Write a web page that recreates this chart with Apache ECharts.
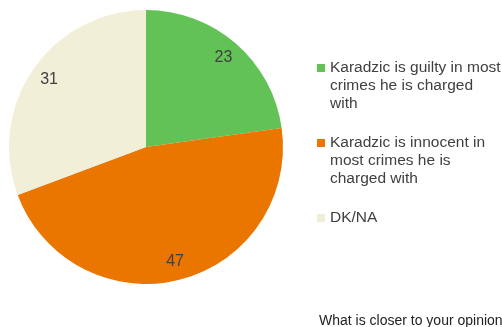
<!DOCTYPE html>
<html>
<head>
<meta charset="utf-8">
<style>
  html, body { margin: 0; padding: 0; background: #ffffff; }
  #chart { width: 502px; height: 327px; }
</style>
<script src="https://cdn.jsdelivr.net/npm/echarts@6/dist/echarts.min.js"></script>
</head>
<body>
<div id="chart"></div>
<script>
// Survey answers (percent of respondents)
const categories = [
  'Karadzic is guilty in most crimes he is charged with',
  'Karadzic is innocent in most crimes he is charged with',
  'DK/NA'
];
const values = [23, 47, 31];
const colors = ['#63c255', '#ea7600', '#f2efd8'];
// Legend text, wrapped by line
const legendLines = [
  ['Karadzic is guilty in most', 'crimes he is charged', 'with'],
  ['Karadzic is innocent in', 'most crimes he is', 'charged with'],
  ['DK/NA']
];
const question = 'What is closer to your opinion?';

const LINE_H = 18;
const ROWS = 5; // every legend block is padded to the same number of lines

const pieData = categories.map((name, i) => ({
  name: name,
  value: values[i],
  itemStyle: { color: colors[i] }
}));

// Legend text is centred on its square, so blank lines are added so that the
// first text line sits in the middle of a fixed-height block.
function legendText(name) {
  const lines = legendLines[categories.indexOf(name)];
  const above = Math.floor(ROWS / 2);
  const below = ROWS - above - lines.length;
  const out = [];
  for (let i = 0; i < above; i++) out.push(' ');
  lines.forEach(l => out.push(l));
  for (let i = 0; i < below; i++) out.push(' ');
  return out.join('\n');
}

const chart = echarts.init(document.getElementById('chart'), null, { renderer: 'canvas' });
chart.setOption({
  backgroundColor: '#ffffff',
  animation: false,
  title: {
    text: question,
    left: 319,
    top: 314,
    padding: 0,
    textStyle: { fontFamily: 'Liberation Sans, Arial, sans-serif', fontSize: 14, fontWeight: 'normal', color: '#222222' }
  },
  legend: {
    orient: 'vertical',
    left: 317,
    top: 64 + 4 - (ROWS * LINE_H) / 2,
    padding: 0,
    itemGap: 75 - ROWS * LINE_H,
    itemWidth: 8,
    itemHeight: 8,
    icon: 'rect',
    selectedMode: false,
    data: categories,
    formatter: legendText,
    textStyle: {
      fontFamily: 'Liberation Sans, Arial, sans-serif',
      fontSize: 15.5,
      lineHeight: LINE_H,
      color: '#404040'
    }
  },
  series: [
    {
      name: 'share',
      type: 'pie',
      center: [146, 147],
      radius: [0, 137],
      startAngle: 90,
      clockwise: true,
      silent: true,
      label: { show: false },
      labelLine: { show: false },
      itemStyle: { borderWidth: 0 },
      data: pieData
    },
    {
      // transparent ring that carries the value labels
      name: 'values',
      type: 'pie',
      center: [146, 147],
      radius: [93, 137],
      startAngle: 90,
      clockwise: true,
      silent: true,
      itemStyle: { color: 'rgba(0,0,0,0)', borderWidth: 0 },
      label: {
        show: true,
        position: 'inside',
        formatter: '{c}',
        fontFamily: 'Liberation Sans, Arial, sans-serif',
        fontSize: 16,
        color: '#404040'
      },
      labelLine: { show: false },
      data: categories.map((name, i) => ({ name: name, value: values[i] }))
    }
  ]
});
</script>
</body>
</html>
